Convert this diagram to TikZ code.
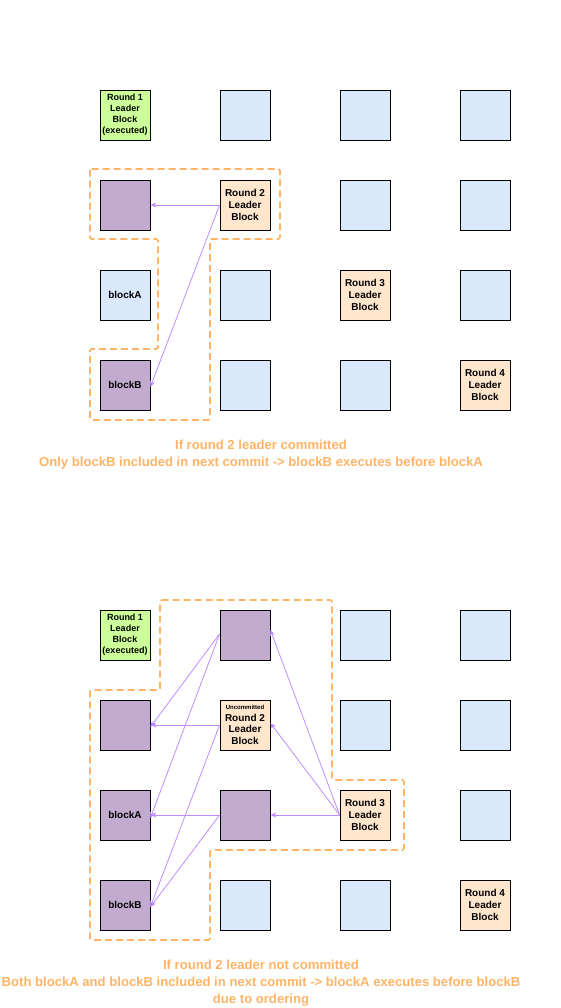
\documentclass[tikz,border=0pt]{standalone}
\usepackage{fontspec}
\setmainfont{Liberation Sans}
\usepackage{tikz}
\usetikzlibrary{arrows.meta, positioning, calc}
\definecolor{cgreen}{RGB}{204,255,153}
\definecolor{cblue}{RGB}{218,232,252}
\definecolor{corange}{RGB}{255,230,204}
\definecolor{cpurple}{RGB}{195,171,208}
\definecolor{clink}{RGB}{190,140,255}
\definecolor{cdash}{RGB}{255,179,102}

\begin{document}
\begin{tikzpicture}[
    x=1pt, y=-1pt,
    >={Stealth[length=6pt, width=5pt]},
    blk/.style={draw, line width=0.8pt, minimum width=50pt, minimum height=50pt, inner sep=1pt, align=center,
        font=\fontsize{10}{11.7}\selectfont\bfseries},
    plain/.style={blk, fill=cblue},
    lead/.style={blk, fill=corange},
    done/.style={blk, fill=cgreen, font=\fontsize{9}{11}\selectfont\bfseries},
    incl/.style={blk, fill=cpurple},
    link/.style={->, clink, line width=0.8pt},
    region/.style={cdash, line width=1.6pt, dash pattern=on 7pt off 4pt, rounded corners=1.5pt},
    caption/.style={text=cdash, align=center, font=\fontsize{13.1}{17}\selectfont\bfseries},
]
    \useasboundingbox (0,0) rectangle (560,1008);

    % ---- Case 1: round 2 leader committed ----
    \node[done] (c1r1) at (125,115) {Round 1\\Leader\\Block\\(executed)};
    \node[plain] (c1b12) at (245,115) {};
    \node[plain] (c1b13) at (365,115) {};
    \node[plain] (c1b14) at (485,115) {};

    \node[incl] (c1p21) at (125,205) {};
    \node[lead] (c1r2) at (245,205) {Round 2\\Leader\\Block};
    \node[plain] (c1b23) at (365,205) {};
    \node[plain] (c1b24) at (485,205) {};

    \node[plain] (c1blockA) at (125,295) {blockA};
    \node[plain] (c1b32) at (245,295) {};
    \node[lead] (c1r3) at (365,295) {Round 3\\Leader\\Block};
    \node[plain] (c1b34) at (485,295) {};

    \node[incl] (c1blockB) at (125,385) {blockB};
    \node[plain] (c1b42) at (245,385) {};
    \node[plain] (c1b43) at (365,385) {};
    \node[lead] (c1r4) at (485,385) {Round 4\\Leader\\Block};

    \draw[link] (c1r2.west) -- (c1p21.east);
    \draw[link] (c1r2.west) -- ([yshift=-2pt]c1blockB.east);

    % committed sub-dag
    \draw[region] (90,169) -- (280,169) -- (280,239) -- (210,239) -- (210,420) -- (90,420)
        -- (90,349) -- (158,349) -- (158,239) -- (90,239) -- cycle;

    \node[caption] (cap1) at (261,455) {If round 2 leader committed\\Only blockB included in next commit -> blockB executes before blockA};

    % ---- Case 2: round 2 leader not committed ----
    \node[done] (c2r1) at (125,635) {Round 1\\Leader\\Block\\(executed)};
    \node[incl] (c2p12) at (245,635) {};
    \node[plain] (c2b13) at (365,635) {};
    \node[plain] (c2b14) at (485,635) {};

    \node[incl] (c2p21) at (125,725) {};
    \node[lead] (c2r2) at (245,725) {{\fontsize{6}{8}\selectfont Uncommitted}\\Round 2\\Leader\\Block};
    \node[plain] (c2b23) at (365,725) {};
    \node[plain] (c2b24) at (485,725) {};

    \node[incl] (c2blockA) at (125,815) {blockA};
    \node[incl] (c2p32) at (245,815) {};
    \node[lead] (c2r3) at (365,815) {Round 3\\Leader\\Block};
    \node[plain] (c2b34) at (485,815) {};

    \node[incl] (c2blockB) at (125,905) {blockB};
    \node[plain] (c2b42) at (245,905) {};
    \node[plain] (c2b43) at (365,905) {};
    \node[lead] (c2r4) at (485,905) {Round 4\\Leader\\Block};

    \draw[link] ([yshift=1pt]c2p12.west) -- ([yshift=-2pt]c2p21.east);
    \draw[link] ([yshift=1pt]c2p12.west) -- ([yshift=-3pt]c2blockA.east);
    \draw[link] (c2r2.west) -- (c2p21.east);
    \draw[link] (c2r2.west) -- ([yshift=-2pt]c2blockB.east);
    \draw[link] (c2p32.west) -- (c2blockA.east);
    \draw[link] (c2p32.west) -- ([yshift=-2pt]c2blockB.east);
    \draw[link] (c2r3.west) -- (c2p32.east);
    \draw[link] (c2r3.west) -- ([yshift=2pt]c2r2.east);
    \draw[link] (c2r3.west) -- ([yshift=5pt]c2p12.east);

    % uncommitted sub-dag
    \draw[region] (160,600) -- (332,600) -- (332,780) -- (404,780) -- (404,850) -- (210,850)
        -- (210,940) -- (90,940) -- (90,690) -- (160,690) -- cycle;

    \node[caption] (cap2) at (261,983) {If round 2 leader not committed\\Both blockA and blockB included in next commit -> blockA executes before blockB\\due to ordering};
\end{tikzpicture}
\end{document}
